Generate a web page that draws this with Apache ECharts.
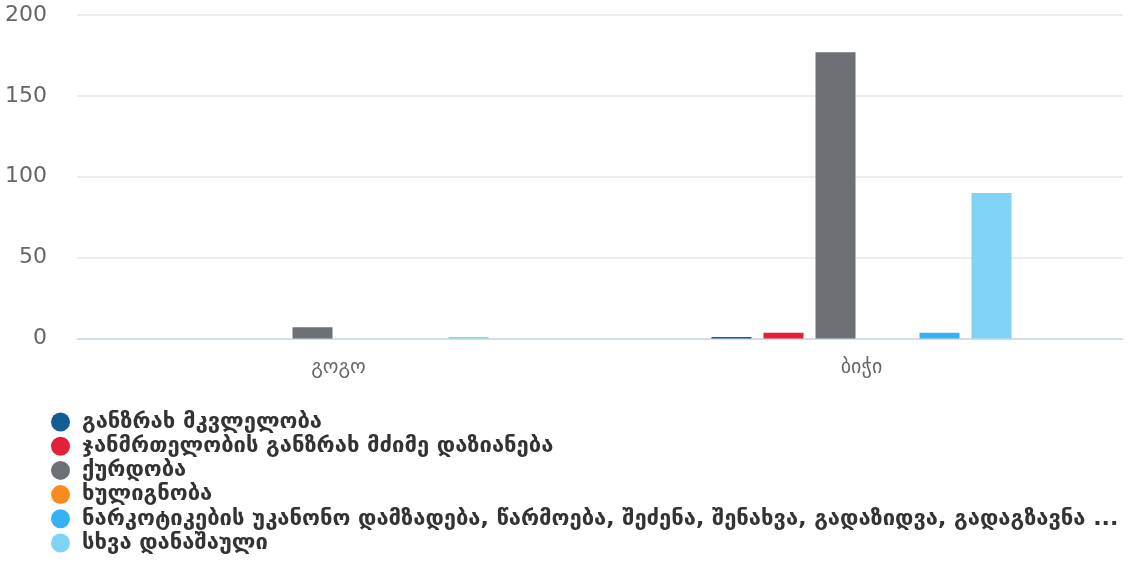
<!DOCTYPE html>
<html>
<head>
<meta charset="utf-8">
<script src="https://cdn.jsdelivr.net/npm/echarts@6/dist/echarts.min.js"></script>
<style>html,body{margin:0;padding:0;background:#fff}#c{width:1133px;height:565px}</style>
</head>
<body>
<div id="c"></div>
<script>
const categories = ['გოგო', 'ბიჭი'];
const seriesNames = [
  'განზრახ მკვლელობა',
  'ჯანმრთელობის განზრახ მძიმე დაზიანება',
  'ქურდობა',
  'ხულიგნობა',
  'ნარკოტიკების უკანონო დამზადება, წარმოება, შეძენა, შენახვა, გადაზიდვა, გადაგზავნა ...',
  'სხვა დანაშაული'
];
const murder = [0, 1];
const injury = [0, 3.5];
const theft = [7, 177];
const hooliganism = [0, 0];
const narcotics = [0, 3.5];
const other = [1, 90];
const colors = ['#135c94', '#e2203a', '#6d7075', '#f78b1f', '#36b2f4', '#80d3f4'];
const yTicks = { min: 0, max: 200, interval: 50 };

const values = [murder, injury, theft, hooliganism, narcotics, other];
const chart = echarts.init(document.getElementById('c'));
chart.setOption({
  animation: false,
  textStyle: { fontFamily: 'DejaVu Sans' },
  grid: { left: 77, right: 10, top: 15, bottom: 226.5 },
  legend: {
    orient: 'vertical',
    left: 46,
    top: 406,
    height: 158,
    icon: 'circle',
    itemWidth: 19,
    itemHeight: 19,
    itemGap: 2.2,
    textStyle: {
      fontSize: 22, fontWeight: 'bold', color: '#333',
      padding: [0, 0, 0, 7]
    },
    data: seriesNames
  },
  xAxis: {
    type: 'category',
    data: categories,
    axisLine: { lineStyle: { color: '#ccd6eb', width: 1.5 } },
    axisTick: { show: false },
    axisLabel: { fontSize: 20, color: '#666', margin: 19 }
  },
  yAxis: {
    type: 'value',
    min: yTicks.min, max: yTicks.max, interval: yTicks.interval,
    splitLine: { lineStyle: { color: '#e6e6e6', width: 1.5 } },
    axisLabel: { fontSize: 22, color: '#666', margin: 30 }
  },
  series: seriesNames.map((n, i) => ({
    name: n,
    type: 'bar',
    data: values[i],
    barWidth: 40,
    barGap: '30%',
    itemStyle: { color: colors[i] }
  }))
});
</script>
</body>
</html>
